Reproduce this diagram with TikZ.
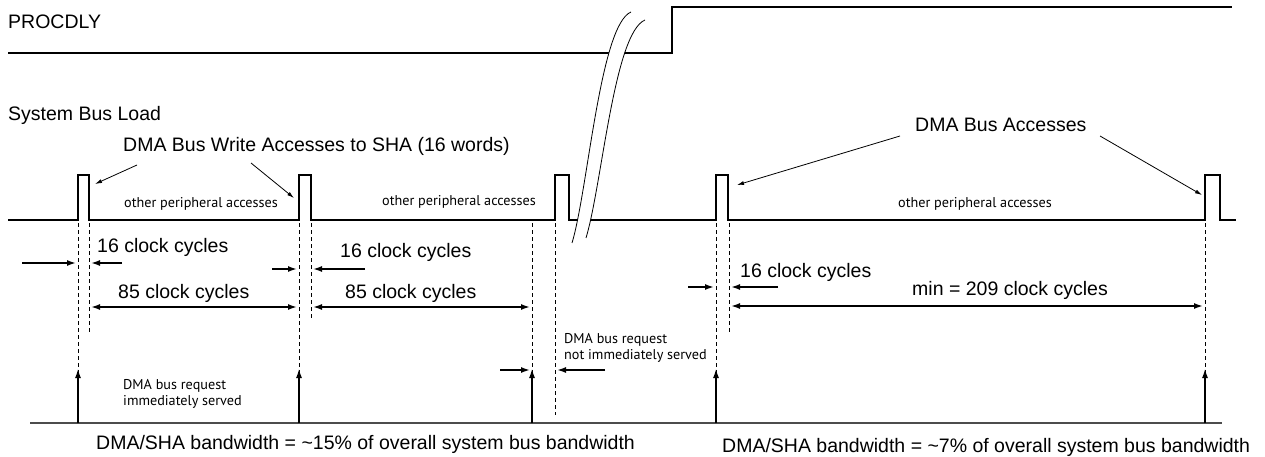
\documentclass[tikz,border=0pt]{standalone}
\usepackage{fontspec}
\setmainfont{Liberation Sans}
\newfontfamily\notefont{PT Sans}
\usetikzlibrary{arrows.meta,positioning}

\begin{document}
\begin{tikzpicture}[x=1pt,y=-1pt,>={Latex[length=9pt,width=6pt]},
  sig/.style={line width=1.6pt},
  dimline/.style={line width=1.6pt},
  guide/.style={line width=0.8pt,dash pattern=on 4pt off 3pt},
  pointer/.style={line width=0.8pt,-{Latex[length=7pt,width=4pt]}},
  lbl/.style={font=\fontsize{19.5}{23}\selectfont,inner sep=0pt,anchor=west},
  note/.style={font=\notefont\fontsize{14.2}{16.5}\selectfont,inner sep=0pt,align=left}]
  \useasboundingbox (0,0) rectangle (1265,457);

  \node[lbl] (procdly) at (8,22) {PROCDLY};
  \node[lbl] (busload) at (8,115) {System Bus Load};
  \draw[sig] (8,53) -- (672,53) -- (672,7) -- (1232,7);
  \draw[sig] (8,220) foreach \a/\b in {78/89,299/311,555/569,716/728,1205/1220} {
    -- (\a,220) -- (\a,175) -- (\b,175) -- (\b,220) } -- (1236,220);

  \fill[white] (631,12) .. controls (600,25) and (588,190) .. (572,243)
    -- (586,238) .. controls (602,185) and (614,33) .. (645,20) -- cycle;
  \draw[line width=0.8pt] (631,12) .. controls (600,25) and (588,190) .. (572,243);
  \draw[line width=0.8pt] (645,20) .. controls (614,33) and (602,185) .. (586,238);

  \foreach \x/\y in {78/372,89/332,299/372,311/320,532/372,555/415,716/372,729/333,1205/372}
    \draw[guide] (\x,223) -- (\x,\y);

  \draw[line width=1.6pt,black!70] (30,423) -- (1222,423);
  \foreach \x in {78,299,532,716,1205}
    \draw[->,line width=1.2pt] (\x,423) -- (\x,369);

  \node[lbl] (writelbl) at (123,146) {DMA Bus Write Accesses to SHA (16 words)};
  \coordinate (wa) at (137,165);
  \coordinate (wb) at (251,163);
  \coordinate (p1) at (95,184);
  \coordinate (p2) at (294,198);
  \draw[pointer] (wa) -- (p1);
  \draw[pointer] (wb) -- (p2);

  \node[lbl] (dmalbl) at (915,125) {DMA Bus Accesses};
  \coordinate (da) at (900,136);
  \coordinate (db) at (1100,136);
  \coordinate (p4) at (737,185);
  \coordinate (p5) at (1202,195);
  \draw[pointer] (da) -- (p4);
  \draw[pointer] (db) -- (p5);

  \node[note] (oth1) at (201,204) {other peripheral accesses};
  \node[note] (oth2) at (459,202) {other peripheral accesses};
  \node[note] (oth3) at (975,204) {other peripheral accesses};

  \node[lbl] (cyc16a) at (97,247) {16 clock cycles};
  \draw[dimline,->] (22,263) -- (76,263);
  \draw[dimline,->] (122,263) -- (91,263);
  \node[lbl] (cyc85a) at (118,293) {85 clock cycles};
  \draw[dimline,<->] (91,307) -- (297,307);

  \node[lbl] (cyc16b) at (340,252) {16 clock cycles};
  \draw[dimline,->] (272,269) -- (297,269);
  \draw[dimline,->] (365,269) -- (313,269);
  \node[lbl] (cyc85b) at (345,293) {85 clock cycles};
  \draw[dimline,<->] (313,307) -- (530,307);

  \node[note,anchor=west] (notserved) at (564,348) {DMA bus request\\not immediately served};
  \draw[dimline,->] (500,370) -- (530,370);
  \draw[dimline,->] (605,370) -- (557,370);

  \node[lbl] (cyc16c) at (740,272) {16 clock cycles};
  \draw[dimline,->] (688,287) -- (714,287);
  \draw[dimline,->] (778,287) -- (731,287);
  \node[lbl] (cycmin) at (912,290) {min = 209 clock cycles};
  \draw[dimline,<->] (731,306) -- (1203,306);

  \node[note,anchor=west] (served) at (123,394) {DMA bus request\\immediately served};

  \node[lbl] (bw15) at (96,444) {DMA/SHA bandwidth = \textasciitilde15\% of overall system bus bandwidth};
  \node[lbl] (bw7) at (722,447) {DMA/SHA bandwidth = \textasciitilde7\% of overall system bus bandwidth};
\end{tikzpicture}
\end{document}
